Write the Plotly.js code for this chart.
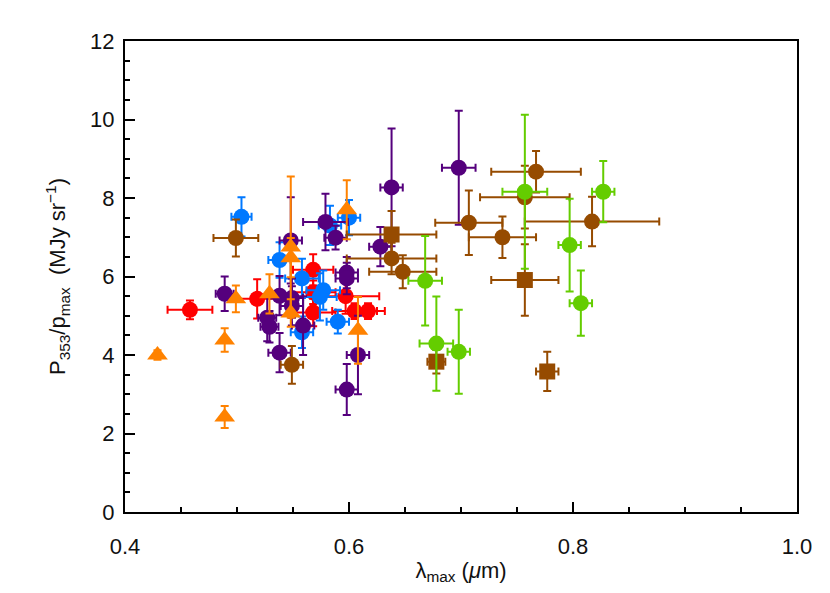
<!DOCTYPE html>
<html>
<head>
<meta charset="utf-8">
<script src="https://cdn.plot.ly/plotly-3.0.1.min.js"></script>
<style>
  html, body { margin: 0; padding: 0; background: #fff; }
  #plot { width: 830px; height: 593px; }
</style>
</head>
<body>
<div id="plot"></div>
<script>
// Red circles
const redX = [0.458, 0.518, 0.568, 0.568, 0.568, 0.597, 0.605, 0.617];
const redY = [5.15, 5.43, 6.17, 5.60, 5.08, 5.50, 5.12, 5.12];
const redXe = [0.02, 0.02, 0.018, 0.02, 0.02, 0.03, 0.02, 0.015];
const redYe = [0.24, 0.5, 0.4, 0.3, 0.35, 0.45, 0.2, 0.2];

// Blue circles
const blueX = [0.504, 0.538, 0.558, 0.577, 0.574, 0.558, 0.590, 0.583, 0.600];
const blueY = [7.52, 6.42, 5.95, 5.65, 5.48, 4.58, 4.85, 7.30, 7.50];
const blueXe = [0.009, 0.01, 0.015, 0.015, 0.015, 0.01, 0.01, 0.01, 0.01];
const blueYe = [0.5, 0.45, 0.5, 0.5, 0.6, 0.4, 0.3, 0.5, 0.45];

// Purple circles
const purpleX = [0.489, 0.527, 0.529, 0.538, 0.538, 0.548, 0.549, 0.549, 0.559, 0.579, 0.588, 0.598, 0.598, 0.608, 0.598, 0.628, 0.638, 0.698];
const purpleY = [5.56, 4.95, 4.72, 5.51, 4.06, 6.92, 5.45, 5.25, 4.75, 7.39, 6.99, 6.10, 5.95, 4.00, 3.12, 6.76, 8.27, 8.77];
const purpleXe = [0.008, 0.008, 0.008, 0.008, 0.01, 0.01, 0.01, 0.01, 0.01, 0.02, 0.01, 0.01, 0.01, 0.01, 0.01, 0.01, 0.01, 0.015];
const purpleYe = [0.44, 0.6, 0.4, 0.5, 0.5, 1.1, 0.5, 0.5, 0.75, 0.72, 0.3, 0.4, 0.4, 1.0, 0.65, 0.5, 1.5, 1.45];

// Orange triangles
const orangeX = [0.429, 0.489, 0.489, 0.499, 0.529, 0.548, 0.548, 0.548, 0.598, 0.608];
const orangeY = [4.00, 2.42, 4.38, 5.43, 5.56, 6.75, 6.48, 5.07, 7.70, 4.63];
const orangeYe = [0.12, 0.28, 0.3, 0.34, 0.5, 1.8, 0.5, 0.35, 0.75, 0.85];

// Brown circles
const brownX = [0.499, 0.549, 0.638, 0.648, 0.707, 0.737, 0.767, 0.757, 0.817];
const brownY = [6.98, 3.75, 6.46, 6.12, 7.37, 7.00, 8.67, 8.02, 7.40];
const brownXe = [0.02, 0.01, 0.04, 0.03, 0.03, 0.03, 0.04, 0.04, 0.06];
const brownYe = [0.47, 0.48, 0.4, 0.42, 0.82, 0.53, 0.53, 0.8, 0.63];

// Brown squares
const sqX = [0.638, 0.678, 0.757, 0.777];
const sqY = [7.07, 3.83, 5.91, 3.58];
const sqXe = [0.04, 0.008, 0.03, 0.01];
const sqYe = [0.6, 0.3, 0.91, 0.5];

// Green circles
const greenX = [0.668, 0.678, 0.698, 0.757, 0.797, 0.827, 0.807];
const greenY = [5.89, 4.29, 4.08, 8.16, 6.80, 8.16, 5.32];
const greenXe = [0.015, 0.015, 0.01, 0.02, 0.01, 0.01, 0.01];
const greenYe = [1.14, 1.2, 1.07, 1.96, 1.18, 0.78, 0.83];

const RED = 'rgb(255,0,0)';
const BLUE = 'rgb(0,120,255)';
const PURPLE = 'rgb(85,0,125)';
const ORANGE = 'rgb(255,130,0)';
const BROWN = 'rgb(150,75,0)';
const GREEN = 'rgb(100,205,0)';

function errTrace(x, y, xe, ye, color, symbol, size) {
  const t = {
    x: x, y: y, type: 'scatter', mode: 'markers',
    marker: { color: color, symbol: symbol, size: size },
    error_y: { type: 'data', array: ye, color: color, thickness: 2, width: 4 },
    hoverinfo: 'x+y'
  };
  if (xe) t.error_x = { type: 'data', array: xe, color: color, thickness: 2, width: 4 };
  return t;
}

const traces = [
  errTrace(redX, redY, redXe, redYe, RED, 'circle', 16),
  errTrace(blueX, blueY, blueXe, blueYe, BLUE, 'circle', 16),
  errTrace(purpleX, purpleY, purpleXe, purpleYe, PURPLE, 'circle', 16),
  errTrace(orangeX, orangeY, null, orangeYe, ORANGE, 'triangle-up', 18),
  errTrace(brownX, brownY, brownXe, brownYe, BROWN, 'circle', 16),
  errTrace(sqX, sqY, sqXe, sqYe, BROWN, 'square', 16),
  errTrace(greenX, greenY, greenXe, greenYe, GREEN, 'circle', 16)
];

const FONT = { family: 'Liberation Sans', size: 22, color: '#111' };

// shared tick style for the box axes
const tickStyle = {
  ticks: 'inside', ticklen: 10, tickwidth: 2, tickcolor: '#000',
  showline: true, linecolor: '#000', linewidth: 2,
  showgrid: false, zeroline: false
};

const layout = {
  width: 830, height: 593,
  margin: { l: 125, r: 33, t: 41, b: 81 },
  paper_bgcolor: '#fff', plot_bgcolor: '#fff',
  showlegend: false,
  font: FONT,
  xaxis: Object.assign({}, tickStyle, {
    mirror: true,
    range: [0.4, 1.0], tickvals: [0.4, 0.6, 0.8, 1.0], ticktext: ['0.4', '0.6', '0.8', '1.0'],
    tickfont: FONT, ticklabelstandoff: 14,
    minor: { dtick: 0.05, ticks: 'inside', ticklen: 5, tickwidth: 2, tickcolor: '#000', showgrid: false },
    title: { text: 'λ<sub>max</sub> (<i>μ</i>m)', font: FONT, standoff: 4 }
  }),
  yaxis: Object.assign({}, tickStyle, {
    mirror: true,
    range: [0, 12], tickvals: [0, 2, 4, 6, 8, 10, 12],
    tickfont: FONT, ticklabelstandoff: 4,
    minor: { dtick: 0.5, ticks: 'inside', ticklen: 5, tickwidth: 2, tickcolor: '#000', showgrid: false },
    title: { text: 'P<sub>353</sub>/p<sub>max</sub>  (MJy sr<sup>−1</sup>)', font: FONT, standoff: 18 }
  }),
  xaxis2: Object.assign({}, tickStyle, {
    overlaying: 'x', side: 'top', anchor: 'y', range: [0.4, 1.0],
    tickvals: [0.4, 0.6, 0.8, 1.0], showticklabels: false,
    minor: { dtick: 0.05, ticks: 'inside', ticklen: 5, tickwidth: 2, tickcolor: '#000', showgrid: false }
  }),
  yaxis2: Object.assign({}, tickStyle, {
    overlaying: 'y', side: 'right', anchor: 'x', range: [0, 12],
    tickvals: [0, 2, 4, 6, 8, 10, 12], showticklabels: false,
    minor: { dtick: 0.5, ticks: 'inside', ticklen: 5, tickwidth: 2, tickcolor: '#000', showgrid: false }
  })
};

Plotly.newPlot('plot', traces, layout, { staticPlot: true });
</script>
</body>
</html>
